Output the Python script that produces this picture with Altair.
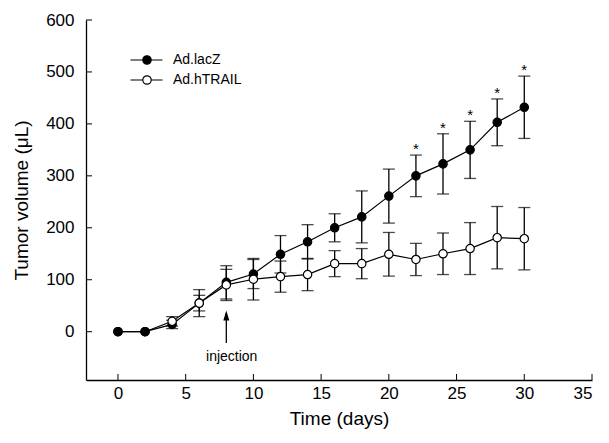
import altair as alt
import pandas as pd

# ---- data ----
days = [0, 2, 4, 6, 8, 10, 12, 14, 16, 18, 20, 22, 24, 26, 28, 30]
lacz_mean = [0, 0, 14, 55, 95, 111, 149, 173, 200, 221, 261, 300, 323, 350, 403, 432]
lacz_err = [0, 0, 8, 26, 32, 28, 36, 33, 27, 50, 52, 40, 58, 55, 45, 60]
htrail_mean = [0, 0, 20, 55, 90, 101, 106, 110, 131, 131, 149, 139, 150, 160, 181, 179]
htrail_err = [0, 0, 9, 15, 30, 40, 30, 31, 25, 29, 42, 31, 40, 50, 60, 60]
groups = ["Ad.lacZ", "Ad.hTRAIL"]
star_days = [22, 24, 26, 28, 30]
x_ticks = [0, 5, 10, 15, 20, 25, 30, 35]
y_ticks = [0, 100, 200, 300, 400, 500, 600]
injection_day = [8]
injection_from = [-22]
injection_to = [36]
injection_tip = [41]
injection_text = ["injection"]
injection_text_x = [8.4]
injection_text_y = [-49]

FONT = "Liberation Sans"
W, H = 506, 360

rows = []
for g, means, errs in [(groups[0], lacz_mean, lacz_err), (groups[1], htrail_mean, htrail_err)]:
    for d, m, e in zip(days, means, errs):
        if g == groups[0]:
            z = 0
        else:
            z = 1 if d > 2 else -1
        rows.append({"day": d, "group": g, "mean": m, "err": e,
                     "lo": m - e, "hi": m + e, "z": z})
df = pd.DataFrame(rows).sort_values(["z", "day"], kind="stable").reset_index(drop=True)
df_err = df[df["err"] > 0]
df_star = df[(df["group"] == groups[0]) & (df["day"].isin(star_days))]
df_xt = pd.DataFrame({"t": x_ticks})
df_yt = pd.DataFrame({"t": y_ticks})
df_inj = pd.DataFrame({"day": injection_day, "y0": injection_from, "y1": injection_to,
                       "tip": injection_tip, "label": injection_text,
                       "lx": injection_text_x, "ly": injection_text_y})

xs = alt.Scale(domain=[-2.36, 35], nice=False, zero=False)
ys = alt.Scale(domain=[-93, 600], nice=False, zero=False)

X = alt.X("day:Q", scale=xs, axis=alt.Axis(values=x_ticks, title="Time (days)", format="d",
                                           titleFontWeight=400))
Y = alt.Y("mean:Q", scale=ys, axis=alt.Axis(values=y_ticks, title="Tumor volume (μL)", format="d",
                                            titleFontWeight=400))

base = alt.Chart(df)

lines = base.mark_line(color="black", strokeWidth=1.2).encode(
    x=X, y=Y, detail="group:N")

err_rule = alt.Chart(df_err).mark_rule(color="black", strokeWidth=1.3).encode(
    x=alt.X("day:Q", scale=xs), y=alt.Y("lo:Q", scale=ys), y2="hi:Q")
cap_lo = alt.Chart(df_err).mark_tick(color="black", orient="horizontal", size=12, thickness=1.3).encode(
    x=alt.X("day:Q", scale=xs), y=alt.Y("lo:Q", scale=ys))
cap_hi = alt.Chart(df_err).mark_tick(color="black", orient="horizontal", size=12, thickness=1.3).encode(
    x=alt.X("day:Q", scale=xs), y=alt.Y("hi:Q", scale=ys))

legend_symbol = ("M-1.65,0L-0.42,0M0.42,0L1.55,0"
                 "M0.42,0A0.42,0.42 0 1,1 -0.42,0A0.42,0.42 0 1,1 0.42,0Z")

points = base.mark_point(shape="circle", filled=True, size=70, stroke="black",
                         strokeWidth=1.2, opacity=1).encode(
    x=X, y=Y,
    fill=alt.Fill("group:N", scale=alt.Scale(domain=groups, range=["black", "white"]),
                  legend=alt.Legend(title=None, orient="none", legendX=50, legendY=29,
                                    symbolType=legend_symbol, symbolSize=400,
                                    symbolStrokeColor="black", symbolStrokeWidth=1.2,
                                    labelFont=FONT, labelFontSize=14, labelColor="black",
                                    labelOffset=15, rowPadding=2, padding=0)))

stars = alt.Chart(df_star).mark_text(text="*", font=FONT, fontSize=15, baseline="alphabetic",
                                     dy=-1, color="black", fill="black").encode(
    x=alt.X("day:Q", scale=xs), y=alt.Y("hi:Q", scale=ys))

xtick_marks = alt.Chart(df_xt).mark_rule(color="black", strokeWidth=1).encode(
    x=alt.X("t:Q", scale=xs), y=alt.value(H), y2=alt.value(H - 6))
ytick_marks = alt.Chart(df_yt).mark_rule(color="black", strokeWidth=1).encode(
    y=alt.Y("t:Q", scale=ys), x=alt.value(0), x2=alt.value(6))

inj_rule = alt.Chart(df_inj).mark_rule(color="black", strokeWidth=1.3).encode(
    x=alt.X("day:Q", scale=xs), y=alt.Y("y0:Q", scale=ys), y2="y1:Q")
inj_head = alt.Chart(df_inj).mark_point(shape="M0,0L0.6,2L-0.6,2Z", filled=True, size=100,
                                        color="black", opacity=1).encode(
    x=alt.X("day:Q", scale=xs), y=alt.Y("tip:Q", scale=ys))
inj_text = alt.Chart(df_inj).mark_text(font=FONT, fontSize=14, baseline="middle",
                                       color="black").encode(
    x=alt.X("lx:Q", scale=xs), y=alt.Y("ly:Q", scale=ys), text="label:N")

chart = alt.layer(
    lines, err_rule, cap_lo, cap_hi, points, stars,
    xtick_marks, ytick_marks, inj_rule, inj_head, inj_text
).properties(
    width=W, height=H,
    autosize=alt.AutoSizeParams(type="none"),
    padding={"left": 78, "top": 12, "right": 9, "bottom": 55},
    background="white",
).configure_view(stroke=None).configure_axis(
    domainColor="black", domainWidth=1.3, ticks=False, tickSize=0, grid=False,
    labelFont=FONT, labelFontSize=17, labelColor="black",
    titleFont=FONT, titleFontSize=19, titleColor="black", titleFontWeight=400,
).configure_axisX(labelPadding=5, titlePadding=8).configure_axisY(labelPadding=12, titlePadding=14)

chart.save("out.html", embed_options={"renderer": "svg", "actions": False})
